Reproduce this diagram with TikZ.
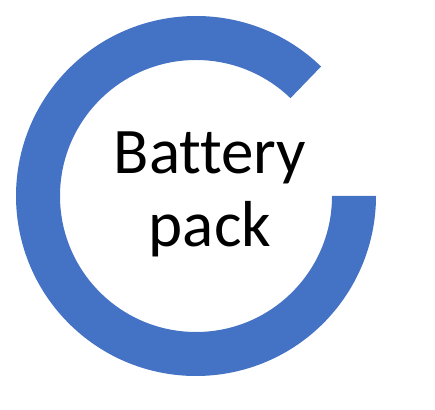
\documentclass[tikz,border=0pt]{standalone}
\usepackage{fontspec}
\setmainfont[Ligatures=NoCommon]{Carlito}
\usepackage{tikz}
\usepackage{xcolor}
\definecolor{ringblue}{RGB}{68,114,196}

\begin{document}
\begin{tikzpicture}[x=1pt, y=1pt]
	\tikzstyle{ring} = [fill=ringblue]
	\tikzstyle{word} = [font=\fontsize{65}{73}\selectfont, inner sep=0pt, anchor=base]

	\useasboundingbox (0,0) rectangle (435,409);

	\coordinate (c) at (196,213);
	\fill[ring] (c) ++(46:180) arc[start angle=46, end angle=360, radius=180]
		-- ++(-44,0) arc[start angle=360, end angle=46, radius=136] -- cycle;

	\node (battery) [word] at (210,235) {Battery};
	\node (pack) [word] at (210,162) {pack};
\end{tikzpicture}
\end{document}
